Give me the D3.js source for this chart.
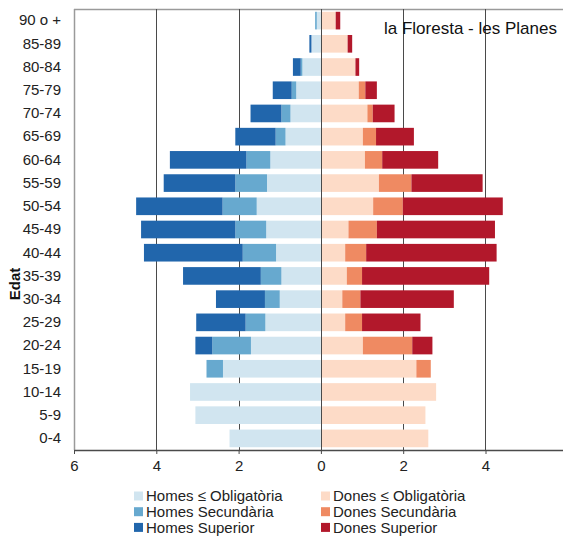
<!DOCTYPE html>
<html><head><meta charset="utf-8">
<script src="https://cdn.jsdelivr.net/npm/d3@7"></script>
<style>body{margin:0;background:#fff;overflow:hidden}svg{display:block;font-family:"Liberation Sans",Arial,sans-serif}</style>
</head><body><svg id="c" width="563" height="539"></svg>
<script>
const ages = ["90 o +","85-89","80-84","75-79","70-74","65-69","60-64","55-59","50-54","45-49","40-44","35-39","30-34","25-29","20-24","15-19","10-14","5-9","0-4"];
const homesObl = [0.10,0.23,0.45,0.60,0.74,0.86,1.23,1.31,1.56,1.33,1.09,0.96,1.00,1.35,1.70,2.38,3.18,3.05,2.22];
const homesSec = [0.04,0.00,0.04,0.11,0.22,0.24,0.58,0.77,0.83,0.75,0.81,0.50,0.36,0.48,0.94,0.40,0,0,0];
const homesSup = [0.00,0.05,0.19,0.46,0.75,0.98,1.86,1.74,2.10,2.29,2.40,1.89,1.19,1.20,0.41,0,0,0,0];
const donesObl = [0.36,0.65,0.84,0.92,1.13,1.02,1.07,1.41,1.27,0.67,0.59,0.63,0.52,0.59,1.02,2.32,2.80,2.54,2.61];
const donesSec = [0,0,0,0.16,0.13,0.32,0.42,0.79,0.72,0.69,0.51,0.37,0.44,0.41,1.20,0.35,0,0,0];
const donesSup = [0.11,0.11,0.09,0.28,0.53,0.92,1.36,1.73,2.43,2.87,3.17,3.09,2.27,1.42,0.49,0,0,0,0];
const xTicks = [-6,-4,-2,0,2,4];
const gridTicks = [-4,-2,0,2,4,6];
const seriesNames = ["Homes ≤ Obligatòria","Homes Secundària","Homes Superior","Dones ≤ Obligatòria","Dones Secundària","Dones Superior"];
const colors = ["#d1e5f0","#67a9cf","#2166ac","#fddbc7","#ef8a62","#b2182b"];
const title = "la Floresta - les Planes";
const yTitle = "Edat";

const svg = d3.select("#c");
const x = d3.scaleLinear().domain([-6,6]).range([74, 74+12*41.15]);
const y = d3.scaleBand().domain(ages).range([9,450]).paddingInner(0.24).paddingOuter(0.12);

// frame
svg.append("line").attr("x1",74).attr("x2",563).attr("y1",9.5).attr("y2",9.5).attr("stroke","#9a9a9a").attr("stroke-width",1.5);
svg.append("line").attr("x1",74.5).attr("x2",74.5).attr("y1",9).attr("y2",450).attr("stroke","#9a9a9a").attr("stroke-width",1.5);
// grid
svg.append("g").selectAll("line").data(gridTicks).join("line")
  .attr("x1",d=>Math.round(x(d))+0.5).attr("x2",d=>Math.round(x(d))+0.5)
  .attr("y1",9).attr("y2",450).attr("stroke","#4a4a4a").attr("stroke-width",1);

// stacked data
const rows = ages.map((a,i)=>({age:a,vals:[homesObl[i],homesSec[i],homesSup[i],donesObl[i],donesSec[i],donesSup[i]]}));
const rects = [];
rows.forEach(r=>{
  let c=0;
  for(let k=0;k<3;k++){ rects.push({age:r.age,x0:-(c+r.vals[k]),x1:-c,k}); c+=r.vals[k]; }
  c=0;
  for(let k=3;k<6;k++){ rects.push({age:r.age,x0:c,x1:c+r.vals[k],k}); c+=r.vals[k]; }
});
svg.append("g").selectAll("rect").data(rects.filter(d=>d.x1-d.x0>0)).join("rect")
  .attr("x",d=>x(d.x0)).attr("width",d=>x(d.x1)-x(d.x0))
  .attr("y",d=>y(d.age)).attr("height",y.bandwidth())
  .attr("fill",d=>colors[d.k]);

// zero line
svg.append("line").attr("x1",Math.round(x(0))+0.5).attr("x2",Math.round(x(0))+0.5).attr("y1",9).attr("y2",450).attr("stroke","#4a4a4a");

// x axis
const xAxis = d3.axisBottom(x).tickValues(xTicks).tickFormat(d=>Math.abs(d)).tickSize(4).tickSizeOuter(0);
const gx = svg.append("g").attr("transform","translate(0,450)").call(xAxis);
gx.select(".domain").attr("stroke","#4a4a4a").attr("stroke-width",1.5);
gx.selectAll(".tick line").attr("stroke","#4a4a4a");
gx.selectAll("text").attr("font-size",15).attr("fill","#222").attr("dy","0.95em").attr("font-family","Liberation Sans, Arial, sans-serif");

// y axis
const yAxis = d3.axisLeft(y).tickSize(0).tickPadding(13);
const gy = svg.append("g").attr("transform","translate(74,0)").call(yAxis);
gy.select(".domain").remove();
gy.selectAll("text").attr("font-size",15).attr("fill","#222").attr("font-family","Liberation Sans, Arial, sans-serif");

// y title
svg.append("text").attr("transform","translate(20,284) rotate(-90)").attr("text-anchor","middle")
  .attr("font-size",15).attr("font-weight","bold").attr("fill","#111").text(yTitle);

// title
svg.append("text").attr("x",384).attr("y",34).attr("font-size",17).attr("fill","#111").text(title);

// legend
const lg = svg.append("g");
seriesNames.forEach((n,i)=>{
  const col = Math.floor(i/3), row = i%3;
  const lx = col===0 ? 134 : 321, ly = 496 + row*15.7;
  lg.append("rect").attr("x",lx).attr("y",ly-4.5).attr("width",9).attr("height",9).attr("fill",colors[i]);
  lg.append("text").attr("x",lx+12).attr("y",ly).attr("dy","0.35em").attr("font-size",15).attr("fill","#222").text(n);
});
</script></body></html>
